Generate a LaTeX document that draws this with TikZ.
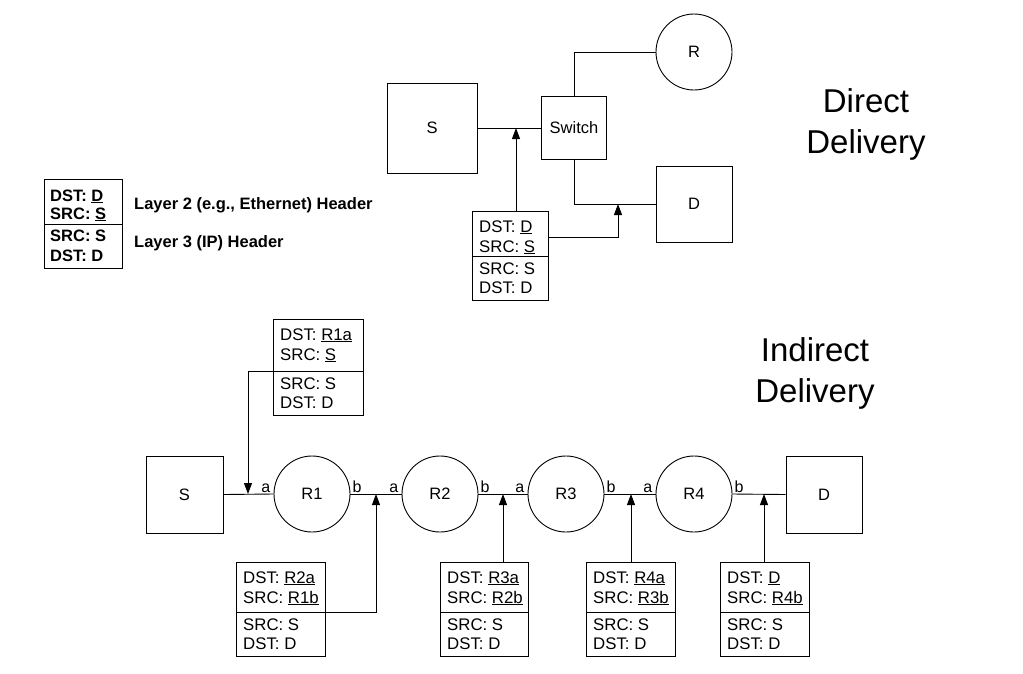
\documentclass[tikz,border=0pt]{standalone}
\usepackage{fontspec}
\setmainfont{Liberation Sans}
\usetikzlibrary{arrows.meta,calc}
\tikzset{
  ln/.style={line width=0.9pt,draw=black},
  arr/.style={ln,-{Triangle[width=8pt,length=11pt]}},
  sq/.style={draw,ln,rectangle,inner sep=0pt,font=\fontsize{16.5}{20}\selectfont},
  rt/.style={draw,ln,circle,inner sep=0pt,minimum size=76pt,font=\fontsize{16.5}{20}\selectfont},
  pktbox/.style={draw,ln,rectangle,inner sep=0pt},
  pkttext/.style={anchor=base west,inner sep=0pt,font=\fontsize{16.8}{20}\selectfont},
  legbold/.style={anchor=base west,inner sep=0pt,font=\bfseries\fontsize{16.5}{20}\selectfont},
  port/.style={inner sep=0pt,font=\fontsize{16}{18}\selectfont},
  ttl/.style={align=center,inner sep=0pt,anchor=north,font=\fontsize{33}{41}\selectfont},
}
% #1 name, #2 left, #3 top, #4 width, #5 height, #6 divider offset, #7 line 1, #8 line 2
\newcommand{\pkt}[8]{%
  \node[pktbox,minimum width=#4pt,minimum height=#5pt,anchor=north west] (#1) at (#2,#3) {};
  \draw[ln] ($(#1.north west)+(0,#6)$) -- ($(#1.north east)+(0,#6)$);
  \node[pkttext] (#1-a) at ($(#1.north west)+(7,21)$) {#7};
  \node[pkttext] (#1-b) at ($(#1.north west)+(7,41)$) {#8};
  \node[pkttext] (#1-c) at ($(#1.north west)+(7,#6+18)$) {SRC: S};
  \node[pkttext] (#1-d) at ($(#1.north west)+(7,#6+37)$) {DST: D};
}
\begin{document}
\begin{tikzpicture}[x=1pt,y=-1pt]
\useasboundingbox (0,0) rectangle (1023,673);

% ---------- Legend ----------
\node[pktbox,minimum width=78pt,minimum height=89pt,anchor=north west] (leg) at (44,179) {};
\draw[ln] ($(leg.north west)+(0,45)$) -- ($(leg.north east)+(0,45)$);
\node[legbold] (leg-a) at ($(leg.north west)+(6,22)$) {DST: \underline{D}};
\node[legbold] (leg-b) at ($(leg.north west)+(6,40)$) {SRC: \underline{S}};
\node[legbold] (leg-c) at ($(leg.north west)+(6,62)$) {SRC: S};
\node[legbold] (leg-d) at ($(leg.north west)+(6,82)$) {DST: D};
\node[legbold] (leg2) at (134,209) {Layer 2 (e.g., Ethernet) Header};
\node[legbold] (leg3) at (134,247) {Layer 3 (IP) Header};

% ---------- Direct delivery ----------
\node[sq,minimum width=90pt,minimum height=90pt] (dS) at (432,128) {S};
\node[sq,minimum width=65pt,minimum height=63pt] (sw) at (574,128) {Switch};
\node[rt] (dR) at (694,52) {R};
\node[sq,minimum width=76pt,minimum height=76pt] (dD) at (694,204) {D};
\draw[ln] (dS.east) -- (sw.west);
\draw[ln] (sw.north) |- (dR.west);
\draw[ln] (sw.south) |- (dD.west);
\pkt{dp}{472}{211}{76}{89}{45}{DST: \underline{D}}{SRC: \underline{S}}
\coordinate (a1) at (516,128);
\coordinate (a2) at (618,204);
\draw[arr] (dp.north -| a1) -- (a1);
\draw[arr] ($(dp.north east)+(0,26)$) -| (a2);
\node[ttl] (t-direct) at (866,88) {Direct\\Delivery};

% ---------- Indirect delivery ----------
\node[ttl] (t-indirect) at (815,337) {Indirect\\Delivery};
\node[sq,minimum width=77pt,minimum height=77pt] (iS) at (184.5,494.5) {S};
\node[rt] (R1) at (312,494) {R1};
\node[rt] (R2) at (440,494) {R2};
\node[rt] (R3) at (566,494) {R3};
\node[rt] (R4) at (694,494) {R4};
\node[sq,minimum width=76pt,minimum height=77pt] (iD) at (824,494.5) {D};
\draw[ln] (iS.east) -- (R1.west);
\draw[ln] (R1.east) -- (R2.west);
\draw[ln] (R2.east) -- (R3.west);
\draw[ln] (R3.east) -- (R4.west);
\draw[ln] (R4.east) -- (iD.west);
\foreach \r in {R1,R2,R3,R4}{
  \node[port,anchor=base east] (\r-pa) at ($(\r.west)+(-3,-2)$) {a};
  \node[port,anchor=base west] (\r-pb) at ($(\r.east)+(2,-2)$) {b};
}

\pkt{ip0}{273}{319}{90}{96}{52}{DST: \underline{R1a}}{SRC: \underline{S}}
\pkt{ip1}{236}{562}{89}{94}{50}{DST: \underline{R2a}}{SRC: \underline{R1b}}
\pkt{ip2}{440}{562}{88}{94}{50}{DST: \underline{R3a}}{SRC: \underline{R2b}}
\pkt{ip3}{586}{562}{89}{94}{50}{DST: \underline{R4a}}{SRC: \underline{R3b}}
\pkt{ip4}{720}{562}{89}{94}{50}{DST: \underline{D}}{SRC: \underline{R4b}}

\coordinate (t0) at (248,494);
\coordinate (t1) at (376,494);
\coordinate (t2) at (503,494);
\coordinate (t3) at (631,494);
\coordinate (t4) at (764,494);
\draw[arr] ($(ip0.north west)+(0,52)$) -| (t0);
\draw[arr] ($(ip1.north east)+(0,50)$) -| (t1);
\draw[arr] (ip2.north -| t2) -- (t2);
\draw[arr] (ip3.north -| t3) -- (t3);
\draw[arr] (ip4.north -| t4) -- (t4);
\end{tikzpicture}
\end{document}
